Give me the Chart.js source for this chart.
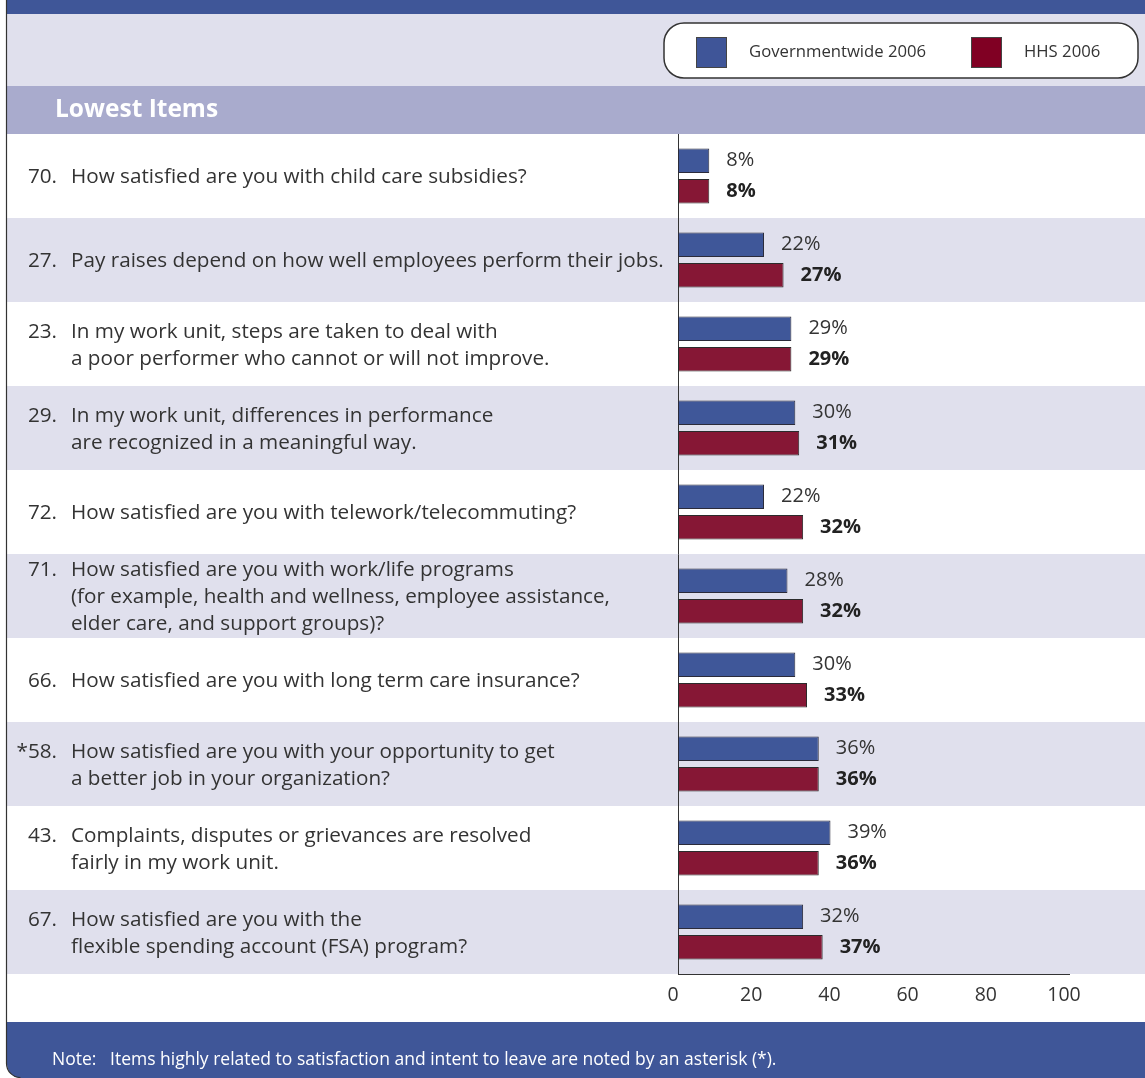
<!DOCTYPE html>
<html>
<head>
<meta charset="utf-8">
<script src="https://cdn.jsdelivr.net/npm/chart.js@4.4.1/dist/chart.umd.min.js"></script>
<style>
  html, body { margin: 0; padding: 0; background: #fff; }
  canvas { display: block; }
</style>
</head>
<body>
<canvas id="chart" width="1145" height="1078"></canvas>
<script>
// Survey items, lowest-scoring first
const itemNumbers = ['70.', '27.', '23.', '29.', '72.', '71.', '66.', '*58.', '43.', '67.'];
const itemLines = [
  ['How satisfied are you with child care subsidies?'],
  ['Pay raises depend on how well employees perform their jobs.'],
  ['In my work unit, steps are taken to deal with', 'a poor performer who cannot or will not improve.'],
  ['In my work unit, differences in performance', 'are recognized in a meaningful way.'],
  ['How satisfied are you with telework/telecommuting?'],
  ['How satisfied are you with work/life programs', '(for example, health and wellness, employee assistance,', 'elder care, and support groups)?'],
  ['How satisfied are you with long term care insurance?'],
  ['How satisfied are you with your opportunity to get', 'a better job in your organization?'],
  ['Complaints, disputes or grievances are resolved', 'fairly in my work unit.'],
  ['How satisfied are you with the', 'flexible spending account (FSA) program?']
];
const govValues = [8, 22, 29, 30, 22, 28, 30, 36, 39, 32];
const hhsValues = [8, 27, 29, 31, 32, 32, 33, 36, 36, 37];
const seriesNames = ['Governmentwide 2006', 'HHS 2006'];
const xTickValues = [0, 20, 40, 60, 80, 100];
const sectionTitle = 'Lowest Items';
const noteText = 'Note:   Items highly related to satisfaction and intent to leave are noted by an asterisk (*).';

const FONT = '"Open Sans", "Noto Sans", "DejaVu Sans", sans-serif';
const COLORS = {
  headerBlue: '#3f5698',
  lavender: '#e0e0ed',
  band: '#a9abcd',
  stripe: '#e0e0ed',
  govBar: '#3f5799',
  hhsBar: '#861735',
  govSwatch: '#3f5598',
  hhsSwatch: '#800023',
  text: '#333333',
  border: '#333333'
};

const PANEL_LEFT = 7;

// Page furniture: header bands, row stripes, footer, panel border
const backdropPlugin = {
  id: 'backdrop',
  beforeDraw(chart) {
    const ctx = chart.ctx;
    const W = chart.width, H = chart.height;
    const yScale = chart.scales.y;
    ctx.save();
    ctx.fillStyle = '#ffffff';
    ctx.fillRect(0, 0, W, H);

    ctx.fillStyle = COLORS.headerBlue;
    ctx.fillRect(PANEL_LEFT, 0, W - PANEL_LEFT, 14);
    ctx.fillStyle = COLORS.lavender;
    ctx.fillRect(PANEL_LEFT, 14, W - PANEL_LEFT, 72);
    ctx.fillStyle = COLORS.band;
    ctx.fillRect(PANEL_LEFT, 86, W - PANEL_LEFT, chart.chartArea.top - 86);

    ctx.fillStyle = '#ffffff';
    ctx.font = 'bold 24.5px ' + FONT;
    ctx.textBaseline = 'middle';
    ctx.textAlign = 'left';
    ctx.fillText(sectionTitle, 55, 110);

    // alternating row stripes
    const half = (yScale.getPixelForValue(1) - yScale.getPixelForValue(0)) / 2;
    ctx.fillStyle = COLORS.stripe;
    itemNumbers.forEach((_, i) => {
      if (i % 2 === 1) {
        const c = yScale.getPixelForValue(i);
        ctx.fillRect(PANEL_LEFT, c - half, W - PANEL_LEFT, half * 2);
      }
    });

    // footer with rounded lower-left corner
    const fTop = 1022, r = 14;
    ctx.fillStyle = COLORS.headerBlue;
    ctx.beginPath();
    ctx.moveTo(PANEL_LEFT, fTop);
    ctx.lineTo(W, fTop);
    ctx.lineTo(W, H);
    ctx.lineTo(PANEL_LEFT + r, H);
    ctx.arcTo(PANEL_LEFT, H, PANEL_LEFT, H - r, r);
    ctx.closePath();
    ctx.fill();

    ctx.fillStyle = '#ffffff';
    ctx.font = '17.5px ' + FONT;
    ctx.textBaseline = 'middle';
    ctx.fillText(noteText, 52, 1060);

    // left panel border
    ctx.strokeStyle = COLORS.border;
    ctx.lineWidth = 1.2;
    ctx.beginPath();
    ctx.moveTo(PANEL_LEFT - 0.5, 0);
    ctx.lineTo(PANEL_LEFT - 0.5, H - r);
    ctx.arcTo(PANEL_LEFT - 0.5, H - 0.5, PANEL_LEFT + r, H - 0.5, r);
    ctx.stroke();
    ctx.restore();
  },
  afterDraw(chart) {
    const ctx = chart.ctx;
    const yScale = chart.scales.y;
    ctx.save();

    // question labels
    const lineH = 27;
    ctx.fillStyle = COLORS.text;
    ctx.font = '20.7px ' + FONT;
    ctx.textBaseline = 'middle';
    itemNumbers.forEach((num, i) => {
      const lines = itemLines[i];
      const c = yScale.getPixelForValue(i) + 1.5;
      const y0 = c - (lines.length - 1) * lineH / 2;
      ctx.textAlign = 'right';
      ctx.fillText(num, 57, y0);
      ctx.textAlign = 'left';
      lines.forEach((ln, k) => ctx.fillText(ln, 71, y0 + k * lineH));
    });

    // value labels beside the bars
    chart.data.datasets.forEach((ds, di) => {
      const meta = chart.getDatasetMeta(di);
      ctx.font = (di === 1 ? 'bold ' : '') + '20px ' + FONT;
      ctx.fillStyle = di === 1 ? '#222222' : COLORS.text;
      ctx.textAlign = 'left';
      meta.data.forEach((bar, j) => {
        ctx.fillText(ds.data[j] + '%', bar.x + 17, bar.y);
      });
    });

    // legend
    const lx = 664, ly = 23, lw = 474, lh = 55, lr = 20;
    ctx.fillStyle = '#ffffff';
    ctx.strokeStyle = COLORS.border;
    ctx.lineWidth = 1.5;
    ctx.beginPath();
    ctx.roundRect(lx, ly, lw, lh, lr);
    ctx.fill();
    ctx.stroke();

    const entries = [
      { x: 696, color: COLORS.govSwatch, label: seriesNames[0] },
      { x: 971, color: COLORS.hhsSwatch, label: seriesNames[1] }
    ];
    ctx.font = '16.7px ' + FONT;
    ctx.textBaseline = 'middle';
    entries.forEach(e => {
      ctx.fillStyle = e.color;
      ctx.fillRect(e.x, 37, 31, 31);
      ctx.strokeStyle = '#444';
      ctx.lineWidth = 1;
      ctx.strokeRect(e.x + 0.5, 37.5, 30, 30);
      ctx.fillStyle = COLORS.text;
      ctx.fillText(e.label, e.x + 53, 52);
    });
    ctx.restore();
  }
};

new Chart(document.getElementById('chart'), {
  type: 'bar',
  data: {
    labels: itemNumbers,
    datasets: [
      {
        label: seriesNames[0],
        data: govValues,
        backgroundColor: COLORS.govBar,
        borderColor: '#2b2b3a',
        borderWidth: 1,
        borderSkipped: false,
        categoryPercentage: 0.726,
        barPercentage: 0.8
      },
      {
        label: seriesNames[1],
        data: hhsValues,
        backgroundColor: COLORS.hhsBar,
        borderColor: '#2b2b2b',
        borderWidth: 1,
        borderSkipped: false,
        categoryPercentage: 0.726,
        barPercentage: 0.8
      }
    ]
  },
  options: {
    indexAxis: 'y',
    responsive: false,
    animation: false,
    devicePixelRatio: 1,
    layout: { padding: { left: 678, right: 76, top: 134, bottom: 0 } },
    plugins: {
      legend: { display: false },
      tooltip: { enabled: false }
    },
    scales: {
      x: {
        min: 0,
        max: 100,
        afterFit(scale) { scale.height = 104; },
        afterBuildTicks(scale) { scale.ticks = xTickValues.map(v => ({ value: v })); },
        grid: { display: false, drawTicks: false },
        border: { display: true, color: COLORS.border, width: 1 },
        ticks: {
          padding: 10,
          labelOffset: -5,
          color: COLORS.text,
          font: { family: FONT, size: 19.5 }
        }
      },
      y: {
        afterFit(scale) { scale.width = 0; },
        grid: { display: false, drawTicks: false },
        border: { display: true, color: COLORS.border, width: 1 },
        ticks: { display: false }
      }
    }
  },
  plugins: [backdropPlugin]
});
</script>
</body>
</html>
